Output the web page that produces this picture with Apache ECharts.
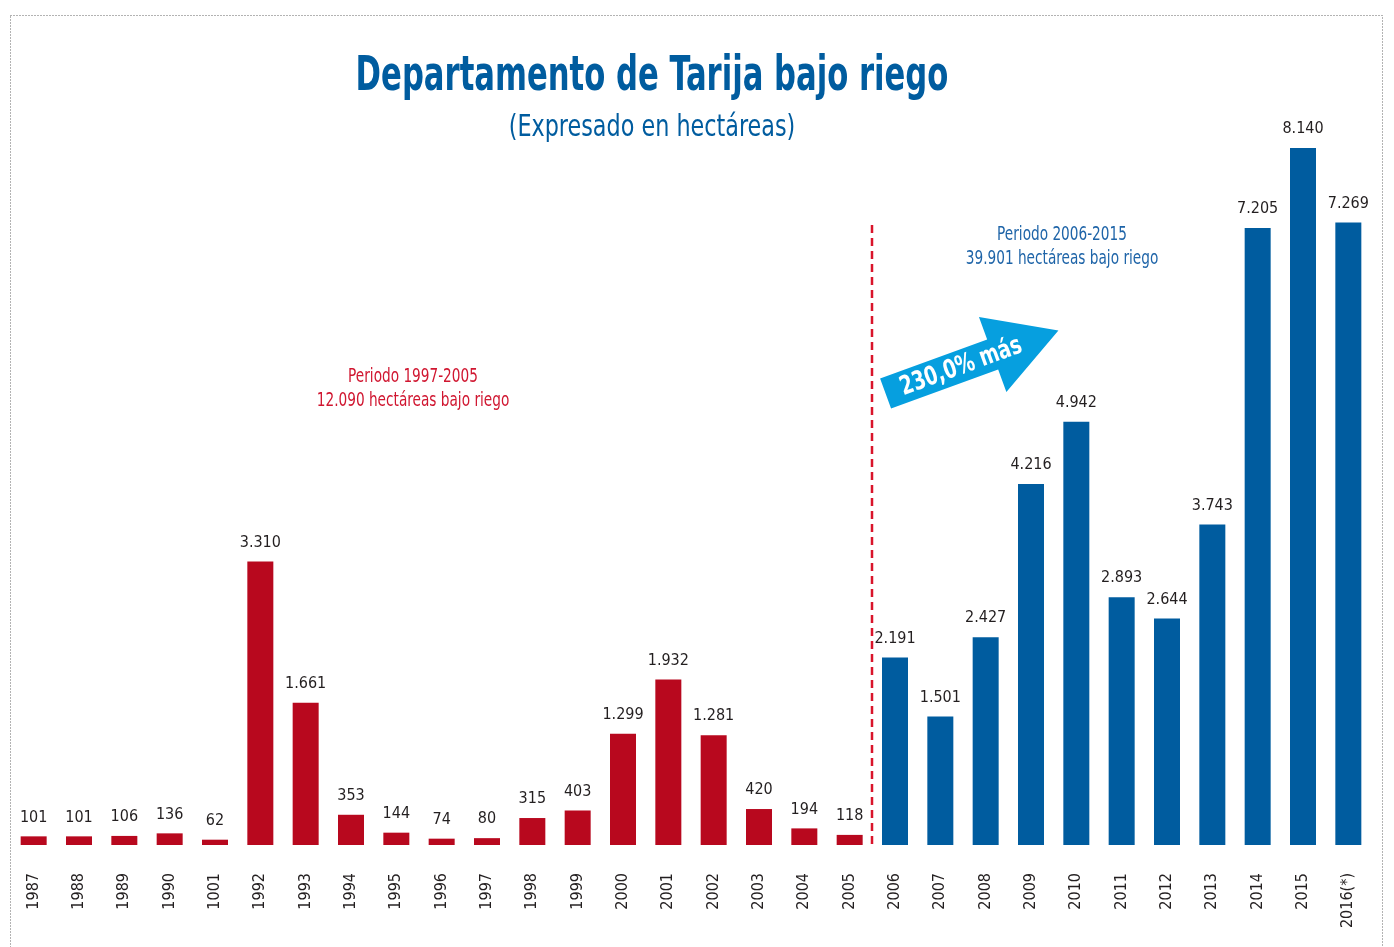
<!DOCTYPE html>
<html>
<head>
<meta charset="utf-8">
<script src="https://cdn.jsdelivr.net/npm/echarts@6/dist/echarts.min.js"></script>
<style>
html, body { margin: 0; padding: 0; background: #fff; }
#chart { width: 1394px; height: 947px; }
</style>
</head>
<body>
<div id="chart"></div>
<script>
const years = ['1987', '1988', '1989', '1990', '1001', '1992', '1993', '1994', '1995', '1996',
  '1997', '1998', '1999', '2000', '2001', '2002', '2003', '2004', '2005',
  '2006', '2007', '2008', '2009', '2010', '2011', '2012', '2013', '2014', '2015', '2016(*)'];
const hectareas = [101, 101, 106, 136, 62, 3310, 1661, 353, 144, 74,
  80, 315, 403, 1299, 1932, 1281, 420, 194, 118,
  2191, 1501, 2427, 4216, 4942, 2893, 2644, 3743, 7205, 8140, 7269];
const firstBlue = 19; // 2006 en adelante

const FONT = '"DejaVu Sans Condensed", "Noto Sans", sans-serif';
const RED = '#b8081e';
const BLUE = '#005c9f';

const fmt = (v) => String(v).replace(/\B(?=(\d{3})+(?!\d))/g, '.');

const chart = echarts.init(document.getElementById('chart'));

const option = {
  backgroundColor: '#fff',
  animation: false,
  grid: { left: 11, right: 23, top: 148, bottom: 102, containLabel: false },
  xAxis: {
    type: 'category',
    data: years,
    axisLine: { show: false },
    axisTick: { show: false },
    axisLabel: {
      rotate: 90, margin: 28, interval: 0,
      fontFamily: FONT, fontSize: 16, color: '#231f20'
    }
  },
  yAxis: {
    type: 'value', min: 0, max: 8140,
    show: false, splitLine: { show: false }
  },
  series: [{
    type: 'bar',
    data: hectareas,
    barWidth: 26,
    itemStyle: {
      color: (p) => p.dataIndex >= firstBlue ? BLUE : RED
    },
    label: {
      show: true, position: 'top', distance: 11,
      fontFamily: FONT, fontSize: 16, color: '#231f20',
      formatter: (p) => fmt(p.value)
    }
  }]
};
chart.setOption(option);

// separador entre periodos
const x1 = chart.convertToPixel({ xAxisIndex: 0 }, 18);
const x2 = chart.convertToPixel({ xAxisIndex: 0 }, 19);
const sepX = Math.round((x1 + x2) / 2);
const base = chart.convertToPixel({ yAxisIndex: 0 }, 0);

chart.setOption({
  graphic: [
    {
      type: 'rect', silent: true,
      shape: { x: 10.5, y: 15.5, width: 1372, height: 960 },
      style: { fill: 'none', stroke: '#666', lineWidth: 1, lineDash: [1, 2] }
    },
    {
      type: 'text', x: 652, y: 78, scaleX: 0.71,
      style: {
        text: 'Departamento de Tarija bajo riego',
        textAlign: 'center', textVerticalAlign: 'middle',
        fill: BLUE, font: 'bold 48px ' + FONT
      }
    },
    {
      type: 'text', x: 652, y: 128, scaleX: 0.8,
      style: {
        text: '(Expresado en hectáreas)',
        textAlign: 'center', textVerticalAlign: 'middle',
        fill: BLUE, font: '31px ' + FONT
      }
    },
    {
      type: 'line', silent: true,
      shape: { x1: sepX, y1: 225, x2: sepX, y2: base },
      style: { stroke: '#d9142b', lineWidth: 2.5, lineDash: [8, 5] }
    },
    {
      type: 'text', x: 413, y: 389, scaleX: 0.76,
      style: {
        text: 'Periodo 1997-2005\n12.090 hectáreas bajo riego',
        textAlign: 'center', textVerticalAlign: 'middle',
        fill: '#d01630', font: '20px ' + FONT, lineHeight: 24
      }
    },
    {
      type: 'text', x: 1062, y: 247, scaleX: 0.76,
      style: {
        text: 'Periodo 2006-2015\n39.901 hectáreas bajo riego',
        textAlign: 'center', textVerticalAlign: 'middle',
        fill: '#1e64a8', font: '20px ' + FONT, lineHeight: 24
      }
    },
    {
      type: 'group', x: 972, y: 362, rotation: 0.35,
      children: [
        {
          type: 'polygon',
          shape: { points: [[-92, -16], [22, -16], [22, -40], [92, 0], [22, 40], [22, 16], [-92, 16]] },
          style: { fill: '#069fdf' }
        },
        {
          type: 'text', x: -12, y: 1, scaleX: 0.8,
          style: {
            text: '230,0% más', textAlign: 'center', textVerticalAlign: 'middle',
            fill: '#fff', font: 'bold 26px ' + FONT
          }
        }
      ]
    }
  ]
});
</script>
</body>
</html>
